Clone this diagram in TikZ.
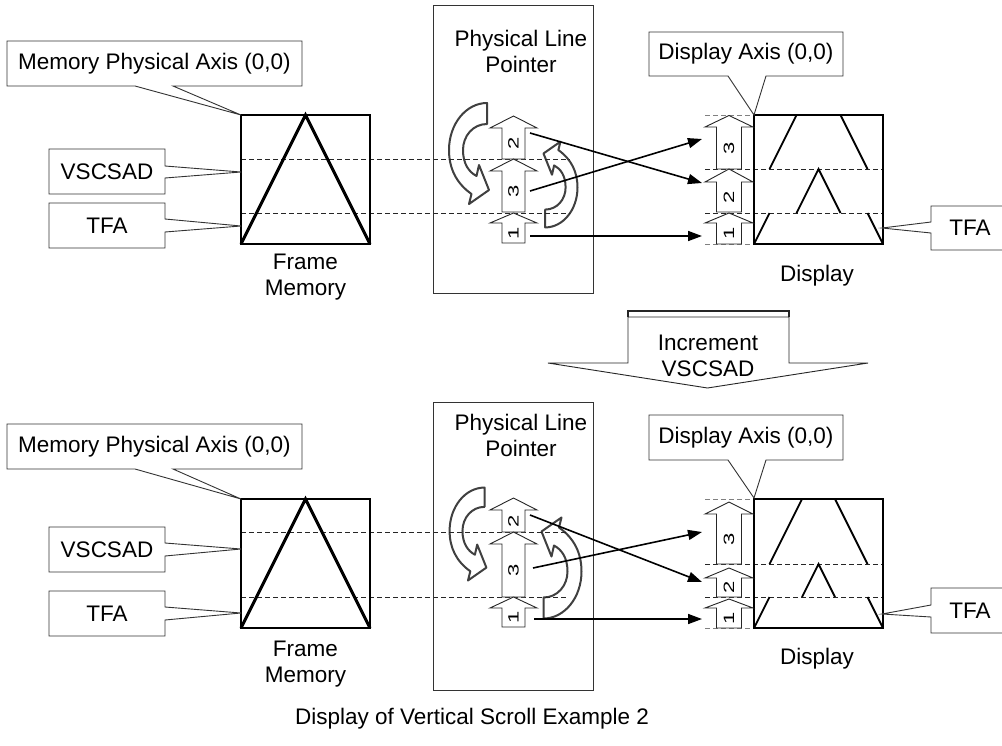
\documentclass[tikz,border=0pt]{standalone}
\usepackage{fontspec}
\setmainfont{Liberation Sans}
\usepackage{graphicx}
\usetikzlibrary{arrows.meta}
\tikzset{
 lbl/.style={inner sep=0pt, font=\fontsize{22.5}{26}\selectfont, align=center},
 callout/.style={draw=black!80, line width=0.9pt, fill=white, line join=miter},
 fmbox/.style={draw, line width=1.6pt},
 tri/.style={line width=3pt, line join=miter},
 dispbox/.style={draw, line width=2pt},
 displine/.style={line width=1.8pt},
 dline/.style={dash pattern=on 5pt off 3pt, line width=0.9pt, draw=black!85},
 gline/.style={dash pattern=on 5pt off 3pt, line width=0.9pt, draw=black!50},
 conn/.style={line width=1.6pt, -{Triangle[length=14pt,width=10pt]}},
 barr/.style={draw=black!85, line width=0.9pt, fill=white, line join=miter},
 curv/.style={draw=black!75, line width=2pt, fill=white, line join=round},
 digit/.style={inner sep=0pt, font=\fontsize{22}{22}\selectfont},
 plpbox/.style={draw=black!80, line width=0.9pt},
}
% block arrow: name, cx, tip, base, bottom, label, half head, half shaft
\newcommand{\BlkArrow}[8]{%
 \draw[barr] (#2-#8,#5) -- (#2-#8,#4) -- (#2-#7,#4) -- (#2,#3) -- (#2+#7,#4) -- (#2+#8,#4) -- (#2+#8,#5) -- cycle;
 \node[digit, rotate=90] (#1) at (#2,{(#4+#5)/2}) {\scalebox{1}[0.68]{#6}};
}
% curved arrow: cx, cy, rotation, scale
\newcommand{\CurvArrow}[4]{%
 \begin{scope}[shift={(#1,#2)}, rotate=#3, scale=#4]
 \draw[curv] (18,-50.5) -- (18,-29.5) .. controls (4,-29.5) and (-6,-17.5) .. (-6,-3.5)
   .. controls (-6,10.5) and (0,18.5) .. (7.5,22.5) -- (10,11.5) -- (20,36.5) -- (0,50.5) -- (2.5,40.5)
   .. controls (-13,29.5) and (-20,14.5) .. (-20,-3.5) .. controls (-20,-29.5) and (-3,-50.5) .. (18,-50.5) -- cycle;
 \end{scope}}
\begin{document}
\begin{tikzpicture}[x=1pt,y=-1pt]
\useasboundingbox (0,0) rectangle (1002,745);
\clip (0,0) rectangle (1002,745);
\fill[white] (0,0) rectangle (1002,745);

% ================= TOP =================
\CurvArrow{469}{153.5}{0}{1}
\CurvArrow{560.5}{184.5}{180}{0.85}
\draw[dline] (241,159) -- (570,159);
\draw[dline] (241,213) -- (570,213);
\draw[fmbox] (241,115) rectangle (370,244);
\draw[tri] (241,244) -- (305.5,115) -- (370,244);
\node[lbl] (fm1) at (305.5,277) {Frame\\Memory};
\draw[callout] (7,41) -- (302,41) -- (302,86) -- (173,86) -- (241,115) -- (135,86) -- (7,86) -- cycle;
\node[lbl] (mpa1) at (154.5,63.5) {Memory Physical Axis (0,0)};
\draw[callout] (49,149) -- (165,149) -- (165,166) -- (241,172) -- (165,178) -- (165,194) -- (49,194) -- cycle;
\node[lbl] (vs1) at (107,171.5) {VSCSAD};
\draw[callout] (49,203) -- (165,203) -- (165,219) -- (241,226) -- (165,232) -- (165,248) -- (49,248) -- cycle;
\node[lbl] (tfa1) at (107,225.5) {TFA};
\draw[plpbox] (433,5) rectangle (593,293);
\node[lbl] (plp1) at (521,51.5) {Physical Line\\Pointer};
\BlkArrow{pa2}{513.5}{116}{128}{159}{2}{23.5}{11.5}
\BlkArrow{pa3}{513.5}{159}{171}{212}{3}{23.5}{11.5}
\BlkArrow{pa1}{513.5}{213}{223}{243}{1}{23.5}{11.5}
\draw[gline] (705,115) -- (754,115);
\draw[gline] (705,244) -- (754,244);
\draw[dline] (705,169) -- (883,169);
\draw[dline] (705,213) -- (883,213);
\draw[dispbox] (754,115) rectangle (883,244);
\draw[displine] (796.5,115) -- (769.5,169);
\draw[displine] (840.5,115) -- (867.5,169);
\draw[displine] (796.5,213) -- (818.5,169) -- (840.5,213);
\draw[displine] (769.5,213) -- (754,244);
\draw[displine] (867.5,213) -- (883,244);
\BlkArrow{da3}{729}{115.5}{127}{169}{3}{24}{12.5}
\BlkArrow{da2}{729}{169}{182}{212}{2}{24}{12.5}
\BlkArrow{da1}{729}{213}{223}{244}{1}{24}{12.5}
\node[lbl] (disp1) at (817,276) {Display};
\draw[callout] (649,32) -- (843,32) -- (843,76) -- (766,76) -- (754,115) -- (728,76) -- (649,76) -- cycle;
\node[lbl] (dax1) at (746,54) {Display Axis (0,0)};
\draw[callout] (931,206) -- (1012,206) -- (1012,250) -- (931,250) -- (931,233) -- (882,228) -- (931,222) -- cycle;
\node[lbl] (tfr1) at (970,228) {TFA};
\coordinate (s2) at (530,133); \coordinate (e2) at (702,183);
\coordinate (s3) at (530,191); \coordinate (e3) at (702,139);
\coordinate (s1) at (530,236); \coordinate (e1) at (702,236);
\draw[conn] (s2) -- (e2);
\draw[conn] (s3) -- (e3);
\draw[conn] (s1) -- (e1);

% ================= INCREMENT =================
\draw[line width=0.9pt, draw=black!85, fill=white] (628,317) -- (789,317) -- (789,363) -- (868,363) -- (707.5,388) -- (548,363) -- (628,363) -- cycle;
\draw[line width=1.2pt, draw=black!85] (628,317) -- (628,311) -- (789,311) -- (789,317);
\node[lbl] (inc) at (708,356) {Increment\\VSCSAD};

% ================= BOTTOM =================
\CurvArrow{468}{534}{0}{0.92}
\CurvArrow{561.5}{568}{180}{1.0}
\draw[dline] (241,532) -- (568,532);
\draw[dline] (241,597) -- (568,597);
\draw[fmbox] (241,499) rectangle (370,628);
\draw[tri] (241,628) -- (305.5,499) -- (370,628);
\node[lbl] (fm2) at (305.5,664) {Frame\\Memory};
\draw[callout] (7,424) -- (302,424) -- (302,469) -- (173,469) -- (241,499) -- (135,469) -- (7,469) -- cycle;
\node[lbl] (mpa2) at (154.5,446.5) {Memory Physical Axis (0,0)};
\draw[callout] (49,527) -- (165,527) -- (165,543) -- (241,549) -- (165,556) -- (165,572) -- (49,572) -- cycle;
\node[lbl] (vs2) at (107,549.5) {VSCSAD};
\draw[callout] (49,591) -- (165,591) -- (165,607) -- (241,613) -- (165,620) -- (165,636) -- (49,636) -- cycle;
\node[lbl] (tfa2) at (107,613.5) {TFA};
\draw[plpbox] (433,402) rectangle (593,690);
\node[lbl] (plp2) at (521,435) {Physical Line\\Pointer};
\BlkArrow{pb2}{513.5}{498}{510}{532}{2}{23.5}{11.5}
\BlkArrow{pb3}{513.5}{532}{544}{597}{3}{23.5}{11.5}
\BlkArrow{pb1}{513.5}{597}{608}{627}{1}{23.5}{11.5}
\draw[gline] (705,499) -- (754,499);
\draw[gline] (705,628) -- (754,628);
\draw[dline] (705,564) -- (883,564);
\draw[dline] (705,597) -- (883,597);
\draw[dispbox] (754,499) rectangle (883,628);
\draw[displine] (802,499) -- (769.5,564);
\draw[displine] (835,499) -- (867.5,564);
\draw[displine] (802,597) -- (818.5,564) -- (835,597);
\draw[displine] (769.5,597) -- (754,628);
\draw[displine] (867.5,597) -- (883,628);
\BlkArrow{db3}{729}{502}{514}{564}{3}{24}{12.5}
\BlkArrow{db2}{729}{568}{578}{597}{2}{24}{12.5}
\BlkArrow{db1}{729}{599}{608}{628}{1}{24}{12.5}
\node[lbl] (disp2) at (817,659) {Display};
\draw[callout] (649,415) -- (843,415) -- (843,460) -- (766,460) -- (754,498) -- (728,460) -- (649,460) -- cycle;
\node[lbl] (dax2) at (746,437.5) {Display Axis (0,0)};
\draw[callout] (931,588) -- (1012,588) -- (1012,633) -- (931,633) -- (931,617) -- (882,614) -- (931,605) -- cycle;
\node[lbl] (tfr2) at (970,611) {TFA};
\coordinate (t2) at (530,515); \coordinate (f2) at (702,582);
\coordinate (t3) at (533,568); \coordinate (f3) at (702,532);
\coordinate (t1) at (534,619); \coordinate (f1) at (702,619);
\draw[conn] (t2) -- (f2);
\draw[conn] (t3) -- (f3);
\draw[conn] (t1) -- (f1);

\node[lbl] (cap) at (472,719) {Display of Vertical Scroll Example 2};
\end{tikzpicture}
\end{document}
